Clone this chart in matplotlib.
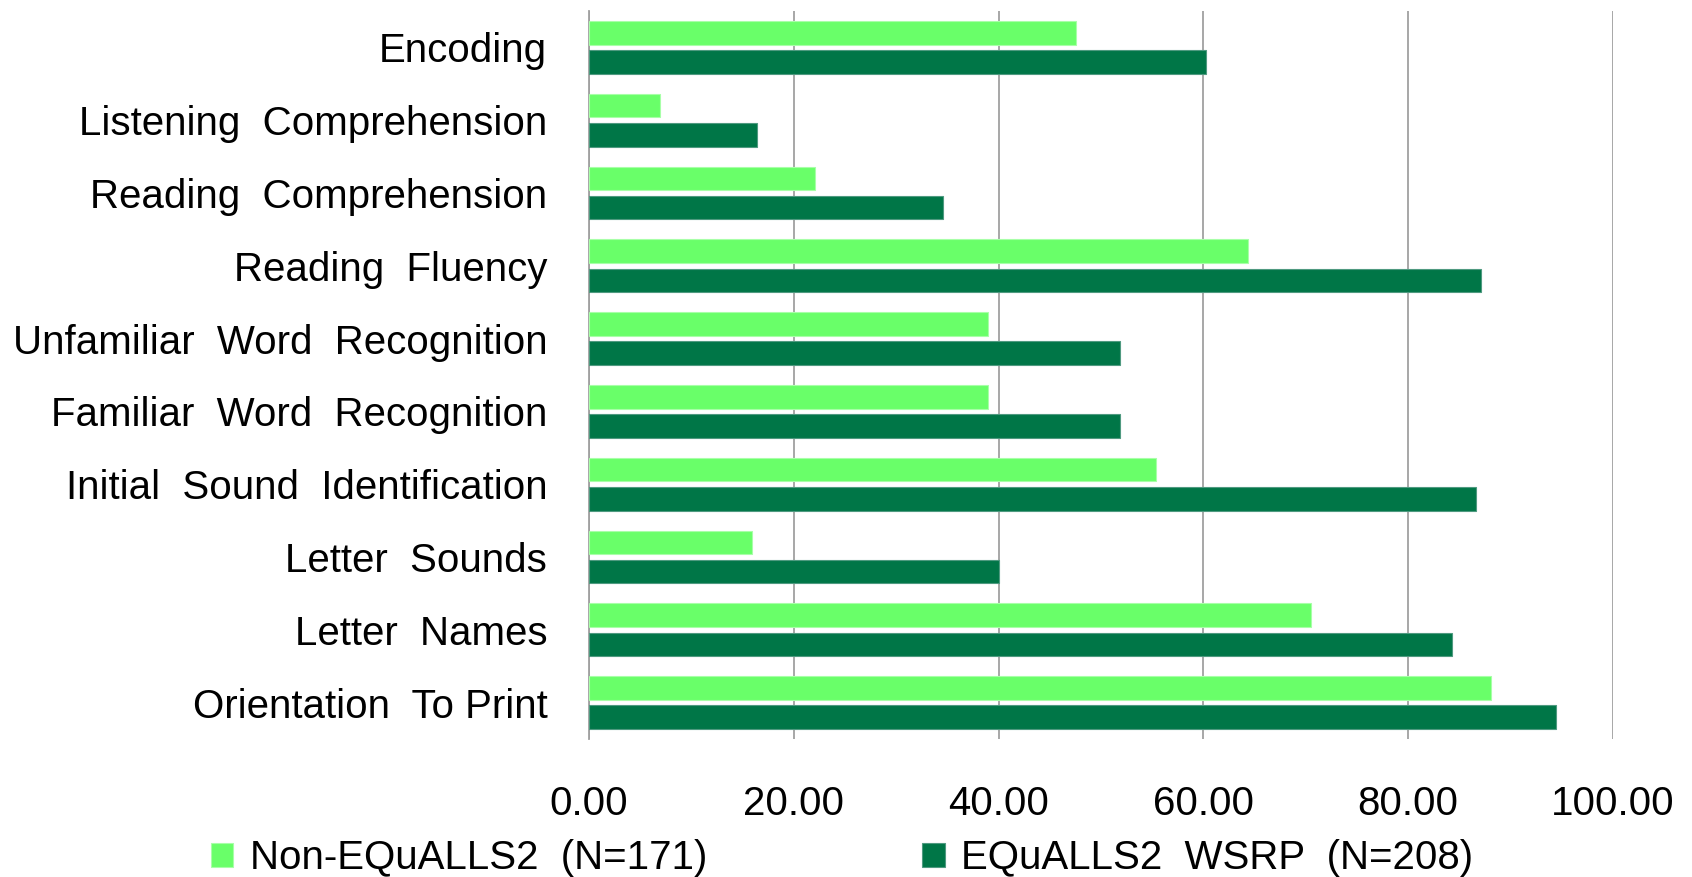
import matplotlib
matplotlib.use("Agg")
import matplotlib.pyplot as plt
import numpy as np

plt.rcParams['font.family'] = ['Liberation Sans', 'DejaVu Sans']

categories = ['Encoding', 'Listening  Comprehension', 'Reading  Comprehension',
              'Reading  Fluency', 'Unfamiliar  Word  Recognition',
              'Familiar  Word  Recognition', 'Initial  Sound  Identification',
              'Letter  Sounds', 'Letter  Names', 'Orientation  To Print']
non_equalls = [47.6, 6.9, 22.1, 64.4, 39.0, 39.0, 55.4, 15.9, 70.5, 88.1]
equalls_wsrp = [60.3, 16.4, 34.6, 87.1, 51.9, 51.9, 86.6, 40.0, 84.3, 94.4]
xticks = [0, 20, 40, 60, 80, 100]

light = '#69ff69'
dark = '#007647'

fig = plt.figure(figsize=(16.92, 8.77), dpi=100)
ax = fig.add_axes([589 / 1692, 1 - 739 / 877, (1613 - 589) / 1692, (739 - 11) / 877])

y = np.arange(len(categories))
h = 0.325
ax.barh(y - 0.2, non_equalls, height=h, color=light, edgecolor='#a8ffa8',
        linewidth=0.8, label='Non-EQuALLS2  (N=171)', zorder=3)
ax.barh(y + 0.2, equalls_wsrp, height=h, color=dark, edgecolor='#4f9a80',
        linewidth=0.8, label='EQuALLS2  WSRP  (N=208)', zorder=3)

ax.set_ylim(len(categories) - 0.5, -0.5)
ax.set_xlim(0, 100)
ax.set_yticks(y)
ax.set_yticklabels(categories, fontsize=29)
ax.set_xticks(xticks)
ax.set_xticklabels(['%.2f' % v for v in xticks], fontsize=29)
ax.tick_params(axis='x', length=0, pad=33)
ax.tick_params(axis='y', length=0, pad=30)

ax.grid(axis='x', color='#a0a0a0', linewidth=1.3, zorder=0)
for s in ['top', 'right', 'bottom']:
    ax.spines[s].set_visible(False)
ax.spines['left'].set_color('#a0a0a0')
ax.spines['left'].set_linewidth(1.3)

fig.legend(loc='center', bbox_to_anchor=(842 / 1692, 1 - 858 / 877), ncol=2,
           frameon=False, fontsize=29, handlelength=0.55, handleheight=0.55,
           handletextpad=0.4, columnspacing=5.35, borderaxespad=0)

fig.savefig('out.png', dpi=100)
